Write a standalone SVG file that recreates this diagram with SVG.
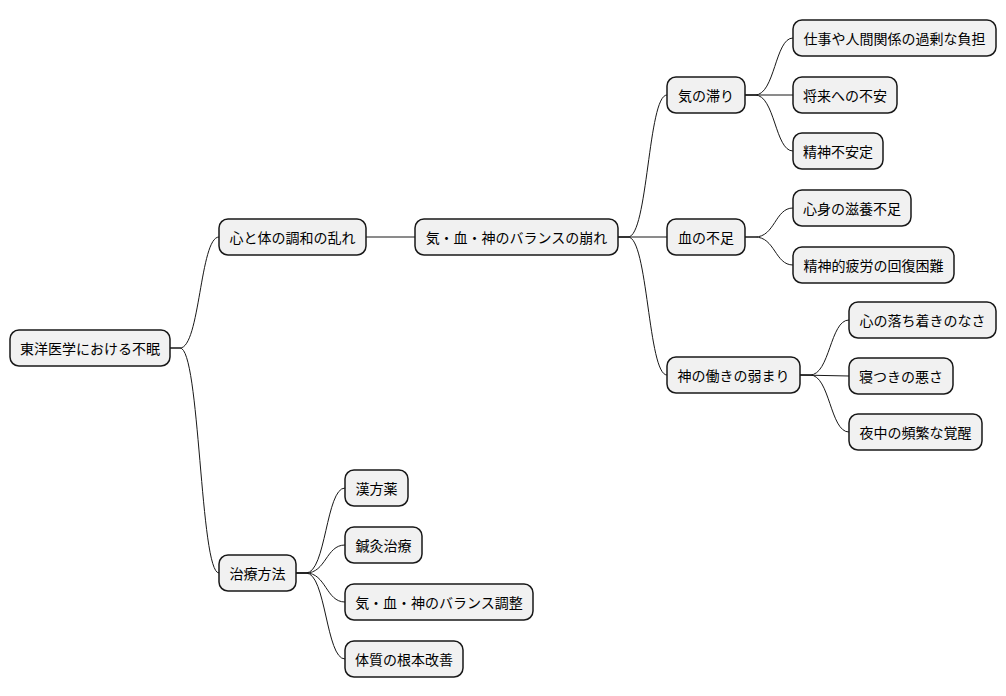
<svg xmlns="http://www.w3.org/2000/svg" width="1006" height="696" viewBox="0 0 1006 696">
<style>
.n rect{fill:#F1F1F1;stroke:#181818;stroke-width:1.5}
.n text{font-family:"Noto Sans CJK JP","Liberation Sans",sans-serif;font-size:14px;fill:#000;text-anchor:middle;dominant-baseline:central}
#c path{fill:none;stroke:#181818;stroke-width:1}
</style>
<rect width="1006" height="696" fill="#fff"/>
<g id="c">
<path d="M170,348 L180,348 C200,348 200,237 219,237"/>
<path d="M170,348 L180,348 C200,348 200,573 219,573"/>
<path d="M366,237 L415,237"/>
<path d="M618,237 L628,237 C648,237 648,95 667,95"/>
<path d="M618,237 L667,237"/>
<path d="M618,237 L628,237 C648,237 648,375 667,375"/>
<path d="M745,95 L755,95 C775,95 775,38 793,38"/>
<path d="M745,95 L793,95"/>
<path d="M745,95 L755,95 C775,95 775,151 793,151"/>
<path d="M745,237 L755,237 C775,237 775,208 793,208"/>
<path d="M745,237 L755,237 C775,237 775,265 793,265"/>
<path d="M800,375 L810,375 C830,375 830,320 849,320"/>
<path d="M800,375 L849,376"/>
<path d="M800,375 L810,375 C830,375 830,432 849,432"/>
<path d="M296,573 L306,573 C326,573 326,488 345,488"/>
<path d="M296,573 L306,573 C326,573 326,545 345,545"/>
<path d="M296,573 L306,573 C326,573 326,602 345,602"/>
<path d="M296,573 L306,573 C326,573 326,659 345,659"/>
</g>
<g id="root" class="n"><rect x="10" y="330" width="160" height="36" rx="9"/><text x="90" y="348">東洋医学における不眠</text></g>
<g id="n1" class="n"><rect x="219" y="219" width="147" height="36" rx="9"/><text x="292.5" y="237">心と体の調和の乱れ</text></g>
<g id="n2" class="n"><rect x="219" y="555" width="77" height="36" rx="9"/><text x="257.5" y="573">治療方法</text></g>
<g id="n3" class="n"><rect x="415" y="219" width="203" height="36" rx="9"/><text x="516.5" y="237">気・血・神のバランスの崩れ</text></g>
<g id="n4" class="n"><rect x="667" y="77" width="78" height="36" rx="9"/><text x="706" y="95">気の滞り</text></g>
<g id="n5" class="n"><rect x="667" y="219" width="78" height="36" rx="9"/><text x="706" y="237">血の不足</text></g>
<g id="n6" class="n"><rect x="667" y="357" width="133" height="36" rx="9"/><text x="733.5" y="375">神の働きの弱まり</text></g>
<g id="l1" class="n"><rect x="793" y="20" width="203" height="36" rx="9"/><text x="894.5" y="38">仕事や人間関係の過剰な負担</text></g>
<g id="l2" class="n"><rect x="793" y="77" width="104" height="36" rx="9"/><text x="845" y="95">将来への不安</text></g>
<g id="l3" class="n"><rect x="793" y="133" width="90" height="36" rx="9"/><text x="838" y="151">精神不安定</text></g>
<g id="l4" class="n"><rect x="793" y="190" width="118" height="36" rx="9"/><text x="852" y="208">心身の滋養不足</text></g>
<g id="l5" class="n"><rect x="793" y="247" width="161" height="36" rx="9"/><text x="873.5" y="265">精神的疲労の回復困難</text></g>
<g id="l6" class="n"><rect x="849" y="302" width="147" height="36" rx="9"/><text x="922.5" y="320">心の落ち着きのなさ</text></g>
<g id="l7" class="n"><rect x="849" y="358" width="104" height="36" rx="9"/><text x="901" y="376">寝つきの悪さ</text></g>
<g id="l8" class="n"><rect x="849" y="414" width="133" height="36" rx="9"/><text x="915.5" y="432">夜中の頻繁な覚醒</text></g>
<g id="l9" class="n"><rect x="345" y="470" width="63" height="36" rx="9"/><text x="376.5" y="488">漢方薬</text></g>
<g id="l10" class="n"><rect x="345" y="527" width="77" height="36" rx="9"/><text x="383.5" y="545">鍼灸治療</text></g>
<g id="l11" class="n"><rect x="345" y="584" width="188" height="36" rx="9"/><text x="439" y="602">気・血・神のバランス調整</text></g>
<g id="l12" class="n"><rect x="345" y="641" width="118" height="36" rx="9"/><text x="404" y="659">体質の根本改善</text></g>
</svg>
